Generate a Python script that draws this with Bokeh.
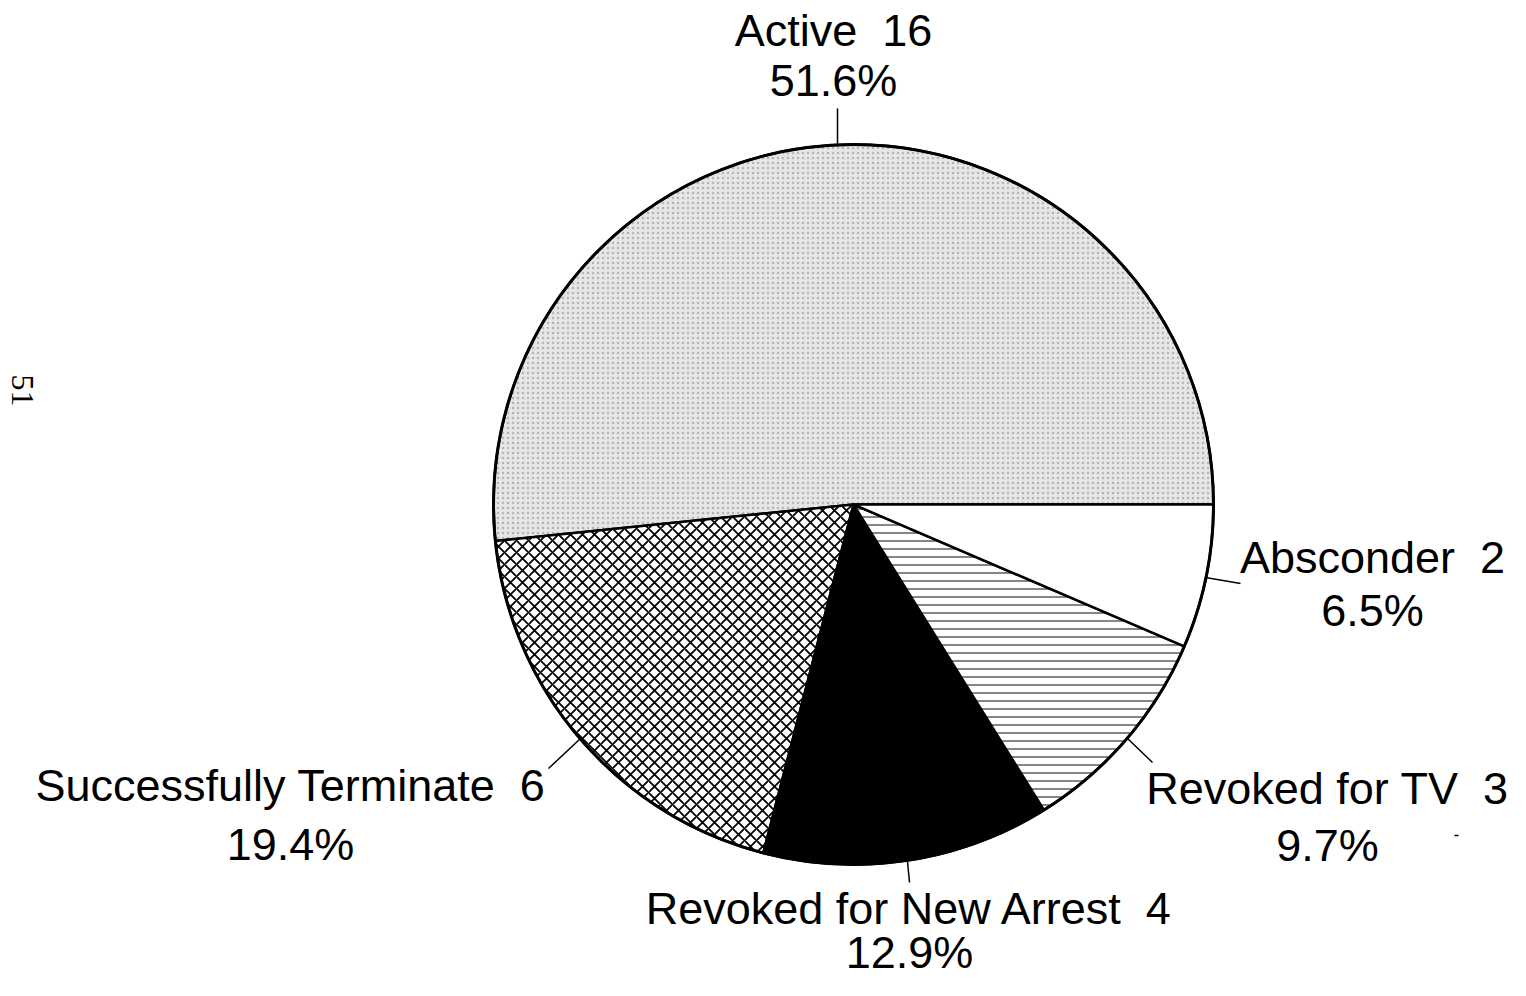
import math
from bokeh.plotting import figure
from bokeh.models import Range1d
from bokeh.core.properties import value
from bokeh.embed import file_html
from bokeh.resources import INLINE

# ---- data ----
categories = ["Active", "Successfully Terminate", "Revoked for New Arrest", "Revoked for TV", "Absconder"]
counts = [16, 6, 4, 3, 2]
percents = ["51.6%", "19.4%", "12.9%", "9.7%", "6.5%"]
page_number = "51"

# ---- styles per slice ----
fills = ["#e6e6e6", "white", "black", "white", "white"]
hatches = ["dot", "diagonal_cross", "blank", "horizontal_line", "blank"]
hatch_colors = ["#8a8a8a", "black", "black", "#333333", "black"]
hatch_scales = [5, 12, 8, 8, 8]
hatch_weights = [0.9, 1.8, 1, 1.2, 1]
hatch_alphas = [0.55, 1, 1, 1, 1]

W, H = 1510, 980
p = figure(width=W, height=H, output_backend="svg", toolbar_location=None,
           x_range=Range1d(0, W), y_range=Range1d(0, H), min_border=0,
           outline_line_color=None, background_fill_color="white", border_fill_color="white")
p.axis.visible = False
p.grid.visible = False

cx, cy, R = 853, 476, 360
total = sum(counts)
acc = 0.0
starts, ends = [], []
for c in counts:
    starts.append(2 * math.pi * acc / total)
    acc += c
    ends.append(2 * math.pi * acc / total)

for i in range(len(categories)):
    p.wedge(x=[cx], y=[cy], radius=R, start_angle=[starts[i]], end_angle=[ends[i]],
            fill_color=fills[i], line_color="black", line_width=2.5,
            hatch_pattern=hatches[i], hatch_color=hatch_colors[i],
            hatch_scale=hatch_scales[i], hatch_weight=hatch_weights[i],
            hatch_alpha=hatch_alphas[i])

# outer outline
p.circle(x=[cx], y=[cy], radius=R, fill_color=None, line_color="black", line_width=3)

# leader lines (data-space endpoints)
leaders = [
    ([837, 837], [835, 872]),
    ([580, 548], [242, 212]),
    ([907, 909], [119, 98]),
    ([1127, 1152], [242, 218]),
    ([1205, 1240], [403, 397]),
]
for xs, ys in leaders:
    p.line(xs, ys, line_color="black", line_width=1.5)

# small scan mark near the right edge
p.line([1454, 1458], [145, 145], line_color="black", line_width=1.5)

# label positions (centre x, baseline y of name line, baseline y of percent line)
label_pos = [
    (833, 950, 900),
    (290, 195, 136),
    (909, 72, 28),
    (1327, 192, 135),
    (1372, 423, 370),
]
font = value("Liberation Sans")
for i, (lx, ly1, ly2) in enumerate(label_pos):
    p.text(x=[lx], y=[ly1], text=[f"{categories[i]} \u00a0{counts[i]}"], text_font=font,
           text_font_size="45px", text_align="center", text_baseline="alphabetic",
           text_color="black")
    p.text(x=[lx], y=[ly2], text=[percents[i]], text_font=font,
           text_font_size="45px", text_align="center", text_baseline="alphabetic",
           text_color="black")

# rotated page number on the left
p.text(x=[22], y=[590], text=[page_number], angle=-math.pi / 2,
       text_font=value("Liberation Serif"), text_font_size="32px",
       text_align="center", text_baseline="middle", text_color="black")

open("out.html", "w").write(file_html(p, INLINE))
